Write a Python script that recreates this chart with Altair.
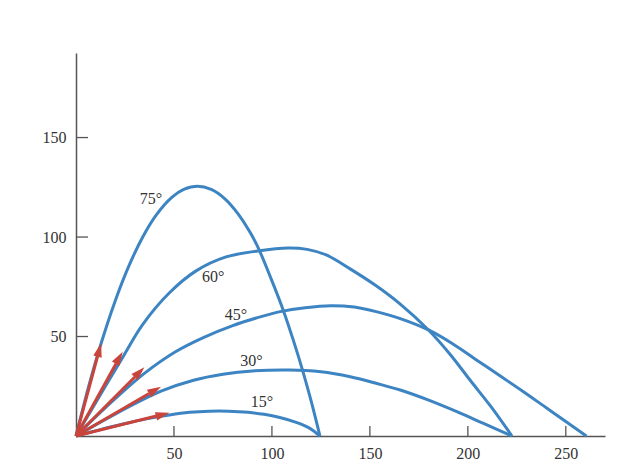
import altair as alt
import pandas as pd

# ---- data ----
angles = [15, 30, 45, 60, 75]
labels = ["15°", "30°", "45°", "60°", "75°"]

c15_x = [0, 12, 24, 36, 47.7, 58, 68, 78, 88, 96, 104, 112, 118, 121.5, 124.5]
c15_y = [0, 3.1, 6.0, 8.6, 10.6, 11.9, 12.5, 12.5, 11.9, 10.9, 9.3, 7.0, 4.6, 2.4, 0]

c30_x = [0, 20, 43.4, 60, 75, 90, 109, 125, 140, 153.2, 165.5, 180, 194.4, 208, 222.5]
c30_y = [0, 11.0, 22.5, 28.0, 31.0, 32.7, 33.2, 32.3, 29.8, 26.5, 23.1, 18.0, 12.2, 6.3, 0]

c45_x = [0, 17.5, 34.9, 51, 65, 80, 92, 104.2, 117, 130, 142, 153.2, 165.5, 179.9, 192, 204, 216, 228, 240, 250, 260.5]
c45_y = [0, 16.5, 31.5, 42.5, 49.5, 55.5, 59.3, 62.5, 64.5, 65.5, 64.8, 62.5, 59.0, 53.3, 46.5, 38.5, 30.5, 22.5, 14.2, 7.3, 0]

c60_x = [0, 12, 23.8, 34, 47.7, 61.3, 76.6, 92.8, 108.4, 118, 127.7, 139.9, 153.2, 165.5, 179.9, 191, 201.2, 212, 222.5]
c60_y = [0, 20.0, 39.5, 56.0, 72.0, 83.0, 90.0, 93.0, 94.5, 93.8, 91.0, 84.0, 75.5, 66.3, 53.3, 41.0, 28.0, 14.5, 0]

c75_x = [0, 6.5, 12.8, 20, 27, 34, 41, 48.9, 55, 62, 69, 76, 83, 89, 93, 99.6, 105.5, 110.7, 115.8, 120, 124.5]
c75_y = [0, 25.0, 46.5, 67.9, 85.5, 99.9, 111.1, 119.9, 123.9, 125.5, 123.9, 119.2, 111.3, 102.1, 94.6, 79.0, 64.0, 48.8, 32.5, 17.6, 0]

tip_x = [47.7, 43.4, 34.9, 23.8, 12.8]
tip_y = [11.7, 24.8, 34.5, 42.4, 46.6]

label_x = [94.9, 89.6, 81.7, 70.0, 38.3]
label_y = [17.0, 37.5, 61.0, 80.0, 119.1]

x_ticks = [50, 100, 150, 200, 250]
y_ticks = [50, 100, 150]

# ---- tables ----
curves = [(15, c15_x, c15_y), (30, c30_x, c30_y), (45, c45_x, c45_y),
          (60, c60_x, c60_y), (75, c75_x, c75_y)]
rows = []
for a, xs, ys in curves:
    for i, (xv, yv) in enumerate(zip(xs, ys)):
        rows.append({"angle": a, "x": xv, "y": yv, "i": i})
df = pd.DataFrame(rows)

arr = pd.DataFrame({"angle": angles, "tx": tip_x, "ty": tip_y})
arr["x0"] = 0.0
arr["y0"] = 0.0
arr["sx"] = arr["tx"] * 0.86
arr["sy"] = arr["ty"] * 0.86
arr["rot"] = 90 - arr["angle"]

lab = pd.DataFrame({"label": labels, "x": label_x, "y": label_y})
xt = pd.DataFrame({"v": x_ticks})
yt = pd.DataFrame({"v": y_ticks})

BLUE = "#3d84c2"
RED = "#c9443b"
AX = "#555555"

xs = alt.Scale(domain=[0, 270], nice=False, zero=False)
ys = alt.Scale(domain=[0, 192.5], nice=False, zero=False)

lines = alt.Chart(df).mark_line(color=BLUE, strokeWidth=3, interpolate="catmull-rom").encode(
    x=alt.X("x:Q", scale=xs, title=None,
            axis=alt.Axis(values=x_ticks, labelPadding=9, format="d")),
    y=alt.Y("y:Q", scale=ys, title=None,
            axis=alt.Axis(values=y_ticks, labelPadding=10, format="d")),
    detail="angle:N",
    order="i:Q",
)

shafts = alt.Chart(arr).mark_rule(color=RED, strokeWidth=3).encode(
    x="x0:Q", y="y0:Q", x2="sx:Q", y2="sy:Q"
)

heads = alt.Chart(arr).mark_point(
    shape="M0,0L-0.5,1.6L0.5,1.6Z", filled=True, size=300, color=RED, opacity=1, strokeWidth=0
).encode(
    x="tx:Q", y="ty:Q", angle=alt.Angle("rot:Q", scale=None)
)

texts = alt.Chart(lab).mark_text(
    font="Liberation Serif", fontSize=16, color="#333333", align="center", baseline="middle"
).encode(x="x:Q", y="y:Q", text="label:N")

xtick = alt.Chart(xt).mark_rule(color=AX, strokeWidth=1.3).encode(
    x="v:Q", y=alt.value(383), y2=alt.value(373)
)
ytick = alt.Chart(yt).mark_rule(color=AX, strokeWidth=1.3).encode(
    y="v:Q", x=alt.value(0), x2=alt.value(12)
)

chart = alt.layer(lines, shafts, heads, texts, xtick, ytick).properties(
    width=529, height=383,
    autosize=alt.AutoSizeParams(type="none"),
    padding={"left": 68, "top": 45, "right": 4, "bottom": 25},
    background="white",
).configure_view(stroke=None).configure_axis(
    grid=False, ticks=False, domainColor=AX, domainWidth=1.5,
    labelFont="Liberation Serif", labelFontSize=16, labelColor="#333333"
)

chart.save("out.html", embed_options={"renderer": "svg", "actions": False})
